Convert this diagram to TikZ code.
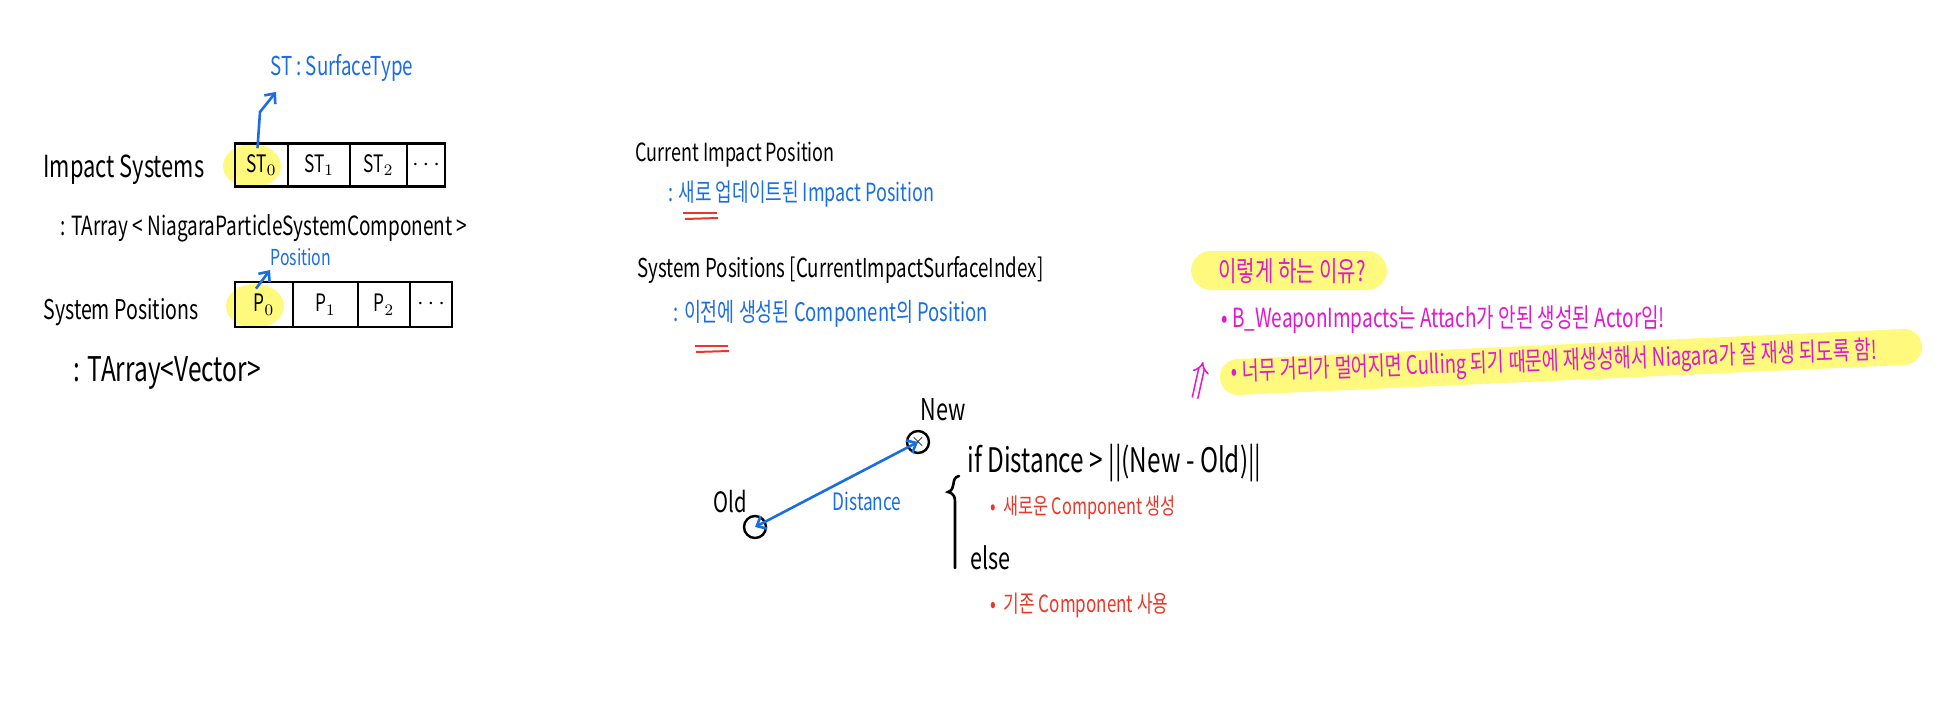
\documentclass[tikz,border=0pt]{standalone}
\usepackage{fontspec}
\usetikzlibrary{arrows.meta}
\newfontfamily\hw[FakeStretch=0.72]{Noto Sans CJK KR}
\definecolor{hwblue}{RGB}{25,110,230}
\definecolor{hwred}{RGB}{235,55,40}
\definecolor{hwmag}{RGB}{225,25,205}
\definecolor{hwyel}{RGB}{255,249,125}
\tikzset{
  tx/.style={inner sep=0pt, anchor=west, font=\hw\fontsize{#1}{#1}\selectfont},
  txc/.style={inner sep=0pt, anchor=center, font=\hw\fontsize{#1}{#1}\selectfont},
  cell/.style={draw, line width=1.4pt, minimum height=#1, inner sep=0pt, font=\hw\fontsize{12}{12}\selectfont},
  bluearrow/.style={draw=hwblue, line width=1.3pt, -{Straight Barb[length=4pt,width=7pt]}},
  redline/.style={draw=hwred, line width=1pt},
  hl/.style={fill=hwyel},
  pt/.style={draw, circle, line width=1.2pt, minimum size=11pt, inner sep=0pt}
}
\begin{document}
\begin{tikzpicture}[x=0.5pt,y=-0.5pt]
\useasboundingbox (0,0) rectangle (1941,717);
\fill[white] (0,0) rectangle (1941,717);
% highlights
\fill[hl] (252,166) ellipse [x radius=29, y radius=22];
\fill[hl] (255,306) ellipse [x radius=29, y radius=22];
\fill[hl, rounded corners=10pt] (1191,251) rectangle (1387,290);
\draw[hwyel, line width=18pt, line cap=round] (1238,377) -- (1904,347);
% left: Impact Systems
\node[tx=13, text=hwblue] (stlbl) at (270,68) {ST : SurfaceType};
\node[tx=15.2] (impsys) at (43,170) {Impact Systems};
\node[tx=13.2] (impty) at (60,228) {: TArray < NiagaraParticleSystemComponent >};
\node[cell=21.5pt, minimum width=26.5pt] (st0) at (261.5,165) {ST$_0$};
\node[cell=21.5pt, minimum width=31pt] (st1) at (319,165) {ST$_1$};
\node[cell=21.5pt, minimum width=28.5pt] (st2) at (378.5,165) {ST$_2$};
\node[cell=21.5pt, minimum width=19pt] (st3) at (426,165) {$\cdots$};
\coordinate (stbend) at (260,112);
\draw[bluearrow] ([xshift=-2pt,yshift=-3pt]st0.north) -- (stbend) -- ([xshift=3pt,yshift=-5pt]stlbl.south west);
% left: System Positions
\node[tx=11, text=hwblue] (poslbl) at (270,257) {Position};
\node[tx=13.6] (syspos) at (43,312) {System Positions};
\node[tx=17] (posty) at (73,373) {: TArray<Vector>};
\node[cell=22.5pt, minimum width=29pt] (p0) at (264,304.5) {P$_0$};
\node[cell=22.5pt, minimum width=32.5pt] (p1) at (325.5,304.5) {P$_1$};
\node[cell=22.5pt, minimum width=26pt] (p2) at (384,304.5) {P$_2$};
\node[cell=22.5pt, minimum width=21pt] (p3) at (431,304.5) {$\cdots$};
\draw[bluearrow] ([xshift=-4pt,yshift=-4pt]p0.north) -- ([yshift=-2pt]poslbl.south west);
% middle
\node[tx=12.5] (cip) at (635,155) {Current Impact Position};
\node[tx=12.5, text=hwblue] (cipd) at (668,194) {: 새로 업데이트된 Impact Position};
\draw[redline] (683,213) -- (717,213);
\draw[redline] (685,219) -- (718,218);
\node[tx=13] (spi) at (637,270) {System Positions [CurrentImpactSurfaceIndex]};
\node[tx=12.8, text=hwblue] (spid) at (673,314) {: 이전에 생성된 Component의 Position};
\draw[redline] (695,346) -- (728,346);
\draw[redline] (696,352) -- (729,351);
% right
\node[tx=13.9, text=hwmag] (why) at (1218,271) {이렇게 하는 이유?};
\node[tx=13.2, text=hwmag] (b1) at (1221,320) {• B\_WeaponImpacts는 Attach가 안된 생성된 Actor임!};
\node[tx=12.8, text=hwmag, rotate=1.9] (b2) at (1231,373) {• 너무 거리가 멀어지면 Culling 되기 때문에 재생성해서 Niagara가 잘 재생 되도록 함!};
\coordinate (dbA) at (1195,398);
\coordinate (dbB) at (1203,362);
\draw[hwmag, double, double distance=2pt, line width=0.8pt, -{Implies}] (dbA) -- (dbB);
% bottom diagram
\node[pt] (new) at (918,442) {\small$\times$};
\node[pt] (old) at (755,527) {};
\node[txc=15] (newlbl) at (943,410) {New};
\node[txc=14] (oldlbl) at (730,502) {Old};
\draw[draw=hwblue, line width=1.3pt, {Straight Barb[length=4pt,width=7pt]}-{Straight Barb[length=4pt,width=7pt]}] (old.center) -- (new.center);
\node[txc=12, text=hwblue] (dist) at (867,501) {Distance};
\draw[line width=1.3pt, line cap=round] (959,476) .. controls (950,478) and (957,489) .. (948,492) .. controls (955,494) and (955,498) .. (955,503) -- (955,568);
\node[tx=16.9] (ifc) at (967,463) {if Distance > ||(New - Old)||};
\node[tx=11.3, text=hwred] (r1) at (990,508) {•\, 새로운 Component 생성};
\node[tx=15] (els) at (970,558) {else};
\node[tx=11.8, text=hwred] (r2) at (990,605) {•\, 기존 Component 사용};
\end{tikzpicture}
\end{document}
